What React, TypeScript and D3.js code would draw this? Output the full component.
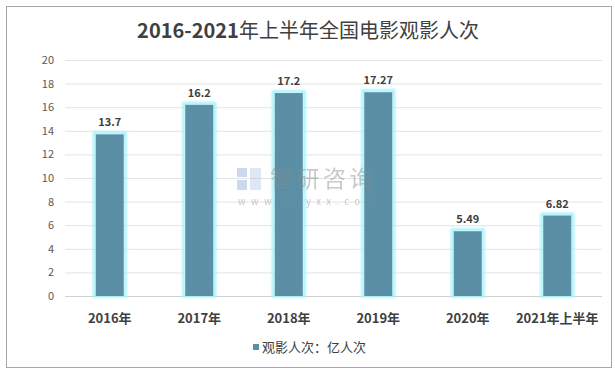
import * as d3 from "d3";

const categories = ["2016年", "2017年", "2018年", "2019年", "2020年", "2021年上半年"];
const values = [13.7, 16.2, 17.2, 17.27, 5.49, 6.82];
const valueLabels = ["13.7", "16.2", "17.2", "17.27", "5.49", "6.82"];
const yTicks = [0, 2, 4, 6, 8, 10, 12, 14, 16, 18, 20];

const W = 615,
  H = 373;
const plot = { left: 65, right: 602, top: 60, bottom: 296 };
const barColor = "#5b8fa6";
const font = "'Microsoft YaHei', 'Noto Sans CJK SC', 'DejaVu Sans', sans-serif";

export default function App() {
  const x = d3
    .scaleBand()
    .domain(categories)
    .range([plot.left, plot.right])
    .paddingInner(0.687)
    .paddingOuter(0.3435);
  const y = d3.scaleLinear().domain([0, 20]).range([plot.bottom, plot.top]);

  return (
    <svg
      width={W}
      height={H}
      style={{ position: "absolute", left: 0, top: 0 }}
      fontFamily={font}
    >
      <defs>
        <filter id="glow" x="-50%" y="-20%" width="200%" height="140%">
          <feGaussianBlur stdDeviation="1.3" />
        </filter>
      </defs>
      <rect x={0} y={0} width={W} height={H} fill="white" />
      <rect x={6.5} y={6.5} width={605} height={361} fill="white" stroke="#a6a6a6" />
      <text x={308} y={38} textAnchor="middle" fontSize={20} fill="#404040">
        <tspan fontWeight="bold">2016-2021</tspan>
        <tspan>年上半年全国电影观影人次</tspan>
      </text>

      {yTicks.map((t) => (
        <g key={t}>
          <line
            x1={plot.left}
            x2={plot.right}
            y1={y(t) + 0.5}
            y2={y(t) + 0.5}
            stroke={t === 0 ? "#d0d0d0" : "#e3e3e3"}
          />
          <text
            x={54}
            y={y(t) + 4}
            textAnchor="end"
            fontSize={11}
            fill="#595959"
          >
            {t}
          </text>
        </g>
      ))}

      {categories.map((c, i) => {
        const bx = x(c)!;
        const bw = x.bandwidth();
        const by = y(values[i]);
        return (
          <g key={c}>
            <rect
              x={bx - 1.5}
              y={by - 1.5}
              width={bw + 3}
              height={plot.bottom - by + 1.5}
              fill="none"
              stroke="#a6f3fb"
              strokeWidth={3}
              filter="url(#glow)"
            />
            <rect
              x={bx}
              y={by}
              width={bw}
              height={plot.bottom - by}
              fill={barColor}
            />
            <text
              x={bx + bw / 2}
              y={by - 8}
              textAnchor="middle"
              fontSize={11}
              fontWeight="bold"
              fill="#404040"
            >
              {valueLabels[i]}
            </text>
            <text
              x={bx + bw / 2}
              y={323}
              textAnchor="middle"
              fontSize={13}
              fontWeight="bold"
              fill="#404040"
            >
              {c}
            </text>
          </g>
        );
      })}

      {/* watermark, drawn over the bars */}
      <g opacity={0.45}>
        <rect x={237} y={168} width={10} height={9} fill="#8fa9d4" />
        <rect x={237} y={180} width={10} height={10} fill="#8fa9d4" />
        <rect x={250} y={168} width={11} height={22} fill="#b9cbe8" />
        <text x={270} y={187} fontSize={23} fill="#8a8a8a" letterSpacing={3.5}>
          智研咨询
        </text>
        <text x={238} y={205} fontSize={9.5} fill="#8a8a8a" letterSpacing={5.4}>
          www.chyxx.com
        </text>
      </g>

      <rect x={253} y={344} width={6} height={6} fill={barColor} />
      <text x={262} y={352} fontSize={13} fill="#404040">
        观影人次：亿人次
      </text>
    </svg>
  );
}
